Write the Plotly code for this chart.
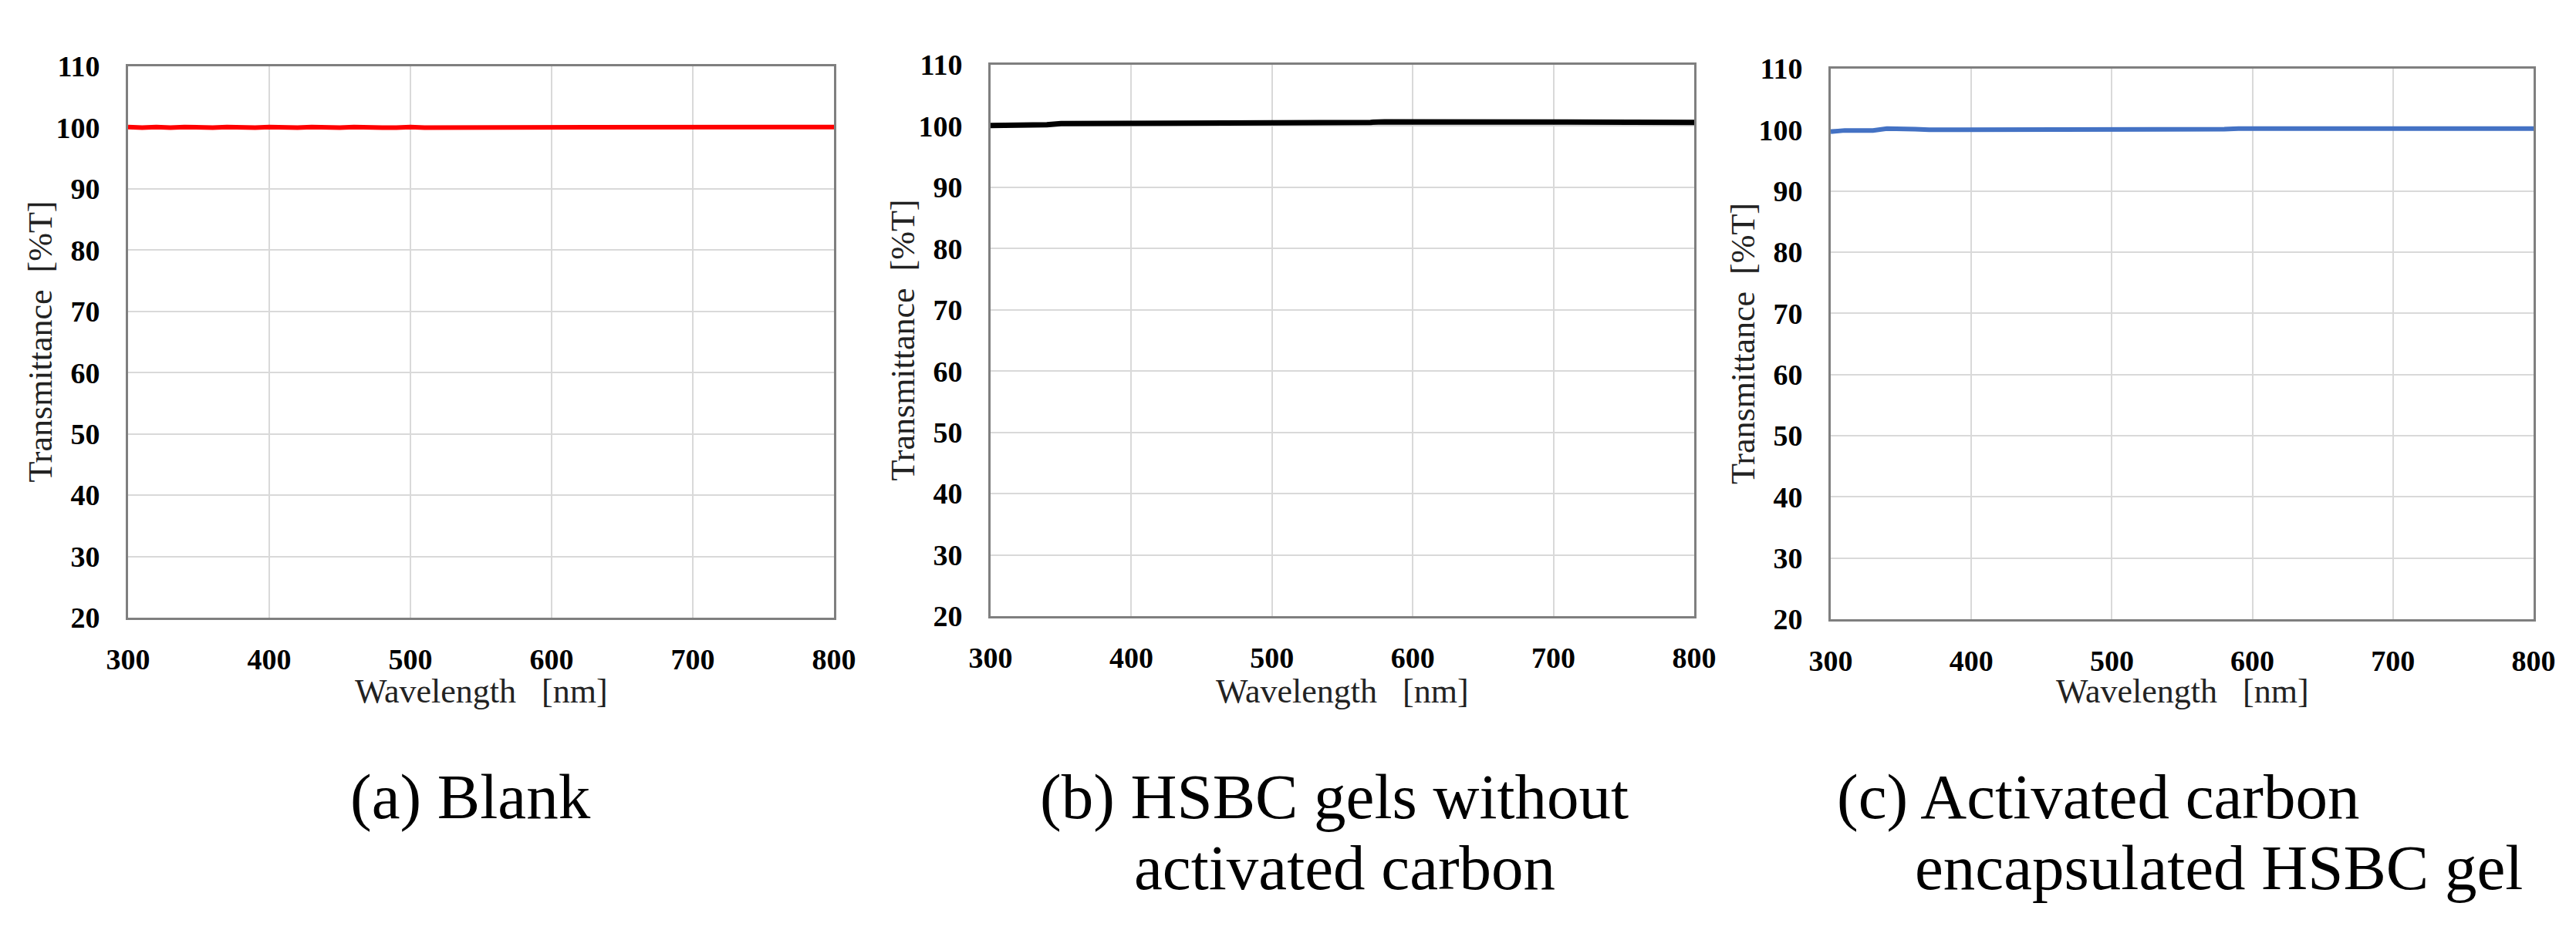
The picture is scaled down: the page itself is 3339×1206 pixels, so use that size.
import plotly.graph_objects as go

W, H = 3339, 1206

wavelength = list(range(300, 801, 10))

blank_T = [100.1, 100.0, 100.1, 100.0, 100.1, 100.0, 100.0, 100.1, 100.0, 100.0,
           100.1, 100.0, 100.0, 100.1, 100.0, 100.0, 100.1, 100.0, 100.0, 100.0,
           100.1, 100.0, 100.0, 100.0, 100.0, 100.0, 100.0, 100.0, 100.0, 100.0,
           100.0, 100.0, 100.0, 100.0, 100.1, 100.0, 100.0, 100.0, 100.0, 100.0,
           100.0, 100.1, 100.0, 100.0, 100.0, 100.1, 100.0, 100.0, 100.0, 100.1,
           100.1]

hsbc_T = [100.1, 100.1, 100.0, 100.1, 100.2, 100.4, 100.4, 100.4, 100.4, 100.5,
          100.5, 100.5, 100.6, 100.6, 100.6, 100.6, 100.6, 100.6, 100.6, 100.6,
          100.6, 100.6, 100.6, 100.6, 100.6, 100.6, 100.6, 100.6, 100.7, 100.7,
          100.7, 100.7, 100.7, 100.7, 100.7, 100.7, 100.7, 100.7, 100.7, 100.7,
          100.7, 100.7, 100.7, 100.7, 100.7, 100.7, 100.7, 100.6, 100.6, 100.6,
          100.6]

ac_T = [99.7, 99.9, 99.9, 99.9, 100.2, 100.2, 100.1, 100.0, 100.0, 100.0,
        100.0, 100.0, 100.0, 100.0, 100.0, 100.0, 100.0, 100.0, 100.0, 100.0,
        100.0, 100.0, 100.0, 100.0, 100.0, 100.0, 100.1, 100.1, 100.1, 100.2,
        100.2, 100.2, 100.2, 100.2, 100.2, 100.2, 100.2, 100.2, 100.2, 100.2,
        100.2, 100.2, 100.2, 100.2, 100.2, 100.2, 100.2, 100.2, 100.2, 100.2,
        100.2]

x_ticks = [300, 400, 500, 600, 700, 800]
y_ticks = [20, 30, 40, 50, 60, 70, 80, 90, 100, 110]

series = [blank_T, hsbc_T, ac_T]
colors = ["#FF0000", "#000000", "#4472C4"]
widths = [6, 7, 6]

# panel pixel boxes: left, right, top, bottom
boxes = [(158, 1073, 78, 793), (1276, 2188, 76, 791), (2365, 3276, 81, 795)]

captions = [
    [("(a) Blank", 444, 1025)],
    [("(b) HSBC gels without", 1338, 1025), ("activated carbon", 1460, 1117)],
    [("(c) Activated carbon", 2371, 1025), ("encapsulated HSBC gel", 2472, 1117)],
]

serif = "Liberation Serif, Times New Roman, serif"

fig = go.Figure()
annotations = []
layout = dict(
    width=W, height=H,
    margin=dict(l=0, r=0, t=0, b=0, autoexpand=False),
    paper_bgcolor="white", plot_bgcolor="white",
    showlegend=False,
)

for i, (ys, col, lw, box) in enumerate(zip(series, colors, widths, boxes)):
    n = "" if i == 0 else str(i + 1)
    l, r, t, b = box
    fig.add_trace(go.Scatter(x=wavelength, y=ys, mode="lines",
                             line=dict(color=col, width=lw),
                             xaxis="x" + n, yaxis="y" + n))
    axis_common = dict(
        showline=True, mirror=True, linecolor="#7f7f7f", linewidth=3,
        showgrid=True, gridcolor="#d9d9d9", gridwidth=2,
        zeroline=False, ticks="", automargin=False,
        tickfont=dict(family=serif, size=38, color="black", weight="bold"),
    )
    layout["xaxis" + n] = dict(
        axis_common, domain=[l / W, r / W], anchor="y" + n,
        range=[300, 800], tickvals=x_ticks, ticklabelstandoff=18,
    )
    layout["yaxis" + n] = dict(
        axis_common, domain=[1 - b / H, 1 - t / H], anchor="x" + n,
        range=[20, 110], tickvals=y_ticks, ticklabelstandoff=26,
    )
    # axis titles
    annotations.append(dict(
        text="Wavelength   [nm]", x=(l + r) / 2 / W, y=1 - 888 / H,
        xref="paper", yref="paper", xanchor="center", yanchor="middle",
        showarrow=False, font=dict(family=serif, size=44, color="#222222"),
    ))
    annotations.append(dict(
        text="Transmittance  [%T]", x=(l - 114) / W, y=1 - ((t + b) / 2) / H,
        xref="paper", yref="paper", xanchor="center", yanchor="middle",
        textangle=-90, showarrow=False,
        font=dict(family=serif, size=44, color="#222222"),
    ))
    for txt, cx, cy in captions[i]:
        annotations.append(dict(
            text=txt, x=cx / W, y=1 - cy / H,
            xref="paper", yref="paper", xanchor="left", yanchor="middle",
            showarrow=False, font=dict(family=serif, size=83, color="black"),
        ))

layout["annotations"] = annotations
fig.update_layout(**layout)
fig.write_html("out.html")
